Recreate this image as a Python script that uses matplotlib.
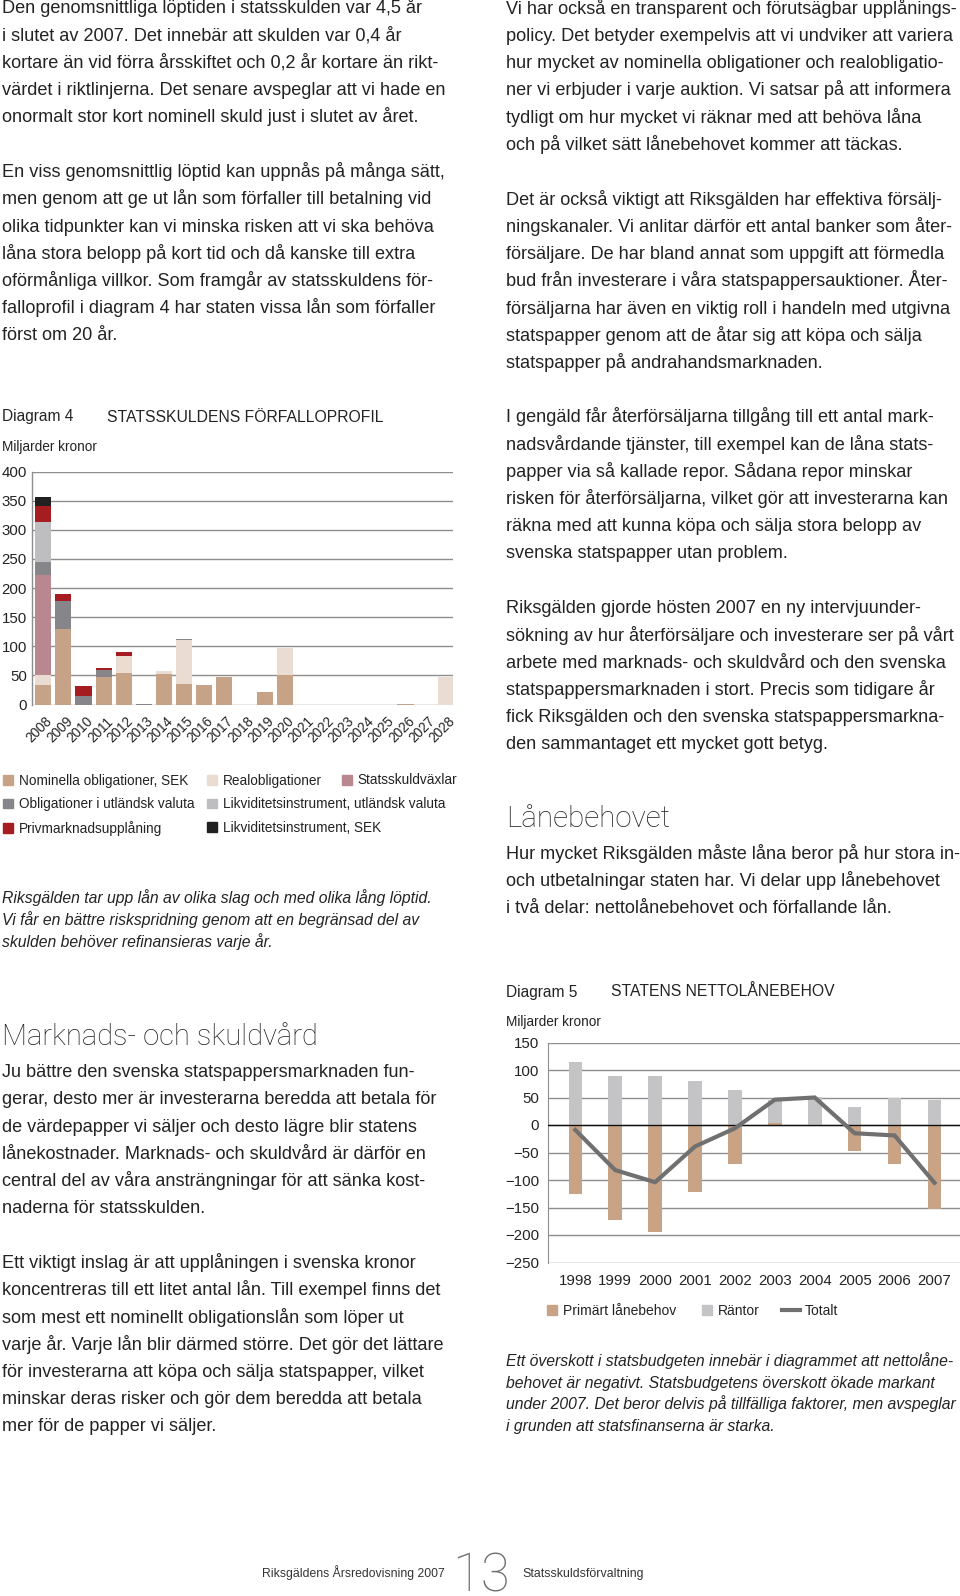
import matplotlib
matplotlib.use("Agg")
import matplotlib.pyplot as plt
from matplotlib.patches import Patch
from matplotlib.lines import Line2D
from matplotlib.transforms import ScaledTranslation

# ---------------- data ----------------
years4 = ["2008", "2009", "2010", "2011", "2012", "2013", "2014", "2015", "2016", "2017", "2018",
          "2019", "2020", "2021", "2022", "2023", "2024", "2025", "2026", "2027", "2028"]
nominella = [34, 130, 0, 47.5, 54.4, 0, 52.6, 35.5, 34.3, 47, 0, 22.3, 51, 0, 0, 0, 0, 0, 0.8, 0, 0]
realobl = [17, 0, 0, 0, 29.7, 0, 4.6, 74.4, 0, 0, 0, 0, 45.7, 0, 0, 0, 0, 0, 0, 0, 48]
statsskuldvaxlar = [171.6, 0, 0, 0, 0, 0, 0, 0, 0, 0, 0, 0, 0, 0, 0, 0, 0, 0, 0, 0, 0]
oblig_utl = [22, 48.5, 14.3, 12, 0, 1, 0, 2, 0, 0, 0, 0, 0, 0, 0, 0, 0, 0, 0, 0, 0]
likvid_utl = [69, 0, 0, 0, 0, 0, 0, 0, 0, 0, 0, 0, 0, 0, 0, 0, 0, 0, 0, 0, 0]
privmarknad = [27.5, 11.5, 18.3, 3.5, 5.8, 0, 0, 0, 0, 0, 0, 0, 0, 0, 0, 0, 0, 0, 0, 0, 0]
likvid_sek = [15, 0, 0, 0, 0, 0, 0, 0, 0, 0, 0, 0, 0, 0, 0, 0, 0, 0, 0, 0, 0]
series4_labels = ["Nominella obligationer, SEK", "Realobligationer", "Statsskuldväxlar",
                  "Obligationer i utländsk valuta", "Likviditetsinstrument, utländsk valuta",
                  "Privmarknadsupplåning", "Likviditetsinstrument, SEK"]
yticks4 = [0, 50, 100, 150, 200, 250, 300, 350, 400]

years5 = ["1998", "1999", "2000", "2001", "2002", "2003", "2004", "2005", "2006", "2007"]
primart = [-125, -173, -194, -121, -70, 3, -2, -48, -70, -152]
rantor = [114, 89, 89.5, 80, 64, 42, 51, 32, 49, 46]
totalt = [-9, -82, -104, -39, -6, 46, 50, -15, -19, -105]
series5_labels = ["Primärt lånebehov", "Räntor", "Totalt"]
yticks5 = [-250, -200, -150, -100, -50, 0, 50, 100, 150]

# ---------------- styles ----------------
W, H = 960, 1596
BODY = "Liberation Sans"
TXT = "#232323"
GRID = "#8e8e8e"
col4 = ["#c6a386", "#eadcd1", "#b8878f", "#86868a", "#bebec0", "#a51d21", "#212121"]
col5 = ["#c8a385", "#c4c4c6", "#707070"]
BS = 13.1   # body text size
HEAD = ["Roboto", "DejaVu Sans"]

plt.rcParams["font.family"] = [BODY, "DejaVu Sans"]
fig = plt.figure(figsize=(W / 100, H / 100), dpi=100)
fig.patch.set_facecolor("white")


def T(x, y, s, size=BS, **kw):
    kw.setdefault("color", TXT)
    kw.setdefault("va", "baseline")
    fig.text(x / W, 1 - y / H, s, fontsize=size, **kw)


def para(x, y0, lines, step=27.2, size=BS, **kw):
    for i, s in enumerate(lines):
        T(x, y0 + i * step, s, size=size, **kw)


# ---------------- body text ----------------
para(2, 13.3, ["Den genomsnittliga löptiden i statsskulden var 4,5 år",
               "i slutet av 2007. Det innebär att skulden var 0,4 år",
               "kortare än vid förra årsskiftet och 0,2 år kortare än rikt-",
               "värdet i riktlinjerna. Det senare avspeglar att vi hade en",
               "onormalt stor kort nominell skuld just i slutet av året."])
para(2, 177.2, ["En viss genomsnittlig löptid kan uppnås på många sätt,",
                "men genom att ge ut lån som förfaller till betalning vid",
                "olika tidpunkter kan vi minska risken att vi ska behöva",
                "låna stora belopp på kort tid och då kanske till extra",
                "oförmånliga villkor. Som framgår av statsskuldens för-",
                "falloprofil i diagram 4 har staten vissa lån som förfaller",
                "först om 20 år."])

RX = 506.5
para(RX, 13.8, ["Vi har också en transparent och förutsägbar upplånings-",
                "policy. Det betyder exempelvis att vi undviker att variera",
                "hur mycket av nominella obligationer och realobligatio-",
                "ner vi erbjuder i varje auktion. Vi satsar på att informera",
                "tydligt om hur mycket vi räknar med att behöva låna",
                "och på vilket sätt lånebehovet kommer att täckas."])
para(RX, 204.8, ["Det är också viktigt att Riksgälden har effektiva försälj-",
                 "ningskanaler. Vi anlitar därför ett antal banker som åter-",
                 "försäljare. De har bland annat som uppgift att förmedla",
                 "bud från investerare i våra statspappersauktioner. Åter-",
                 "försäljarna har även en viktig roll i handeln med utgivna",
                 "statspapper genom att de åtar sig att köpa och sälja",
                 "statspapper på andrahandsmarknaden."])
para(RX, 422.3, ["I gengäld får återförsäljarna tillgång till ett antal mark-",
                 "nadsvårdande tjänster, till exempel kan de låna stats-",
                 "papper via så kallade repor. Sådana repor minskar",
                 "risken för återförsäljarna, vilket gör att investerarna kan",
                 "räkna med att kunna köpa och sälja stora belopp av",
                 "svenska statspapper utan problem."])
para(RX, 613.3, ["Riksgälden gjorde hösten 2007 en ny intervjuunder-",
                 "sökning av hur återförsäljare och investerare ser på vårt",
                 "arbete med marknads- och skuldvård och den svenska",
                 "statspappersmarknaden i stort. Precis som tidigare år",
                 "fick Riksgälden och den svenska statspappersmarkna-",
                 "den sammantaget ett mycket gott betyg."])
T(RX, 826.7, "Lånebehovet", size=21.3, family=HEAD, weight="light")
para(RX, 858.7, ["Hur mycket Riksgälden måste låna beror på hur stora in-",
                 "och utbetalningar staten har. Vi delar upp lånebehovet",
                 "i två delar: nettolånebehovet och förfallande lån."])

T(2, 1045, "Marknads- och skuldvård", size=21.0, family=HEAD, weight="light")
para(2, 1077.2, ["Ju bättre den svenska statspappersmarknaden fun-",
                 "gerar, desto mer är investerarna beredda att betala för",
                 "de värdepapper vi säljer och desto lägre blir statens",
                 "lånekostnader. Marknads- och skuldvård är därför en",
                 "central del av våra ansträngningar för att sänka kost-",
                 "naderna för statsskulden."])
para(2, 1268.2, ["Ett viktigt inslag är att upplåningen i svenska kronor",
                 "koncentreras till ett litet antal lån. Till exempel finns det",
                 "som mest ett nominellt obligationslån som löper ut",
                 "varje år. Varje lån blir därmed större. Det gör det lättare",
                 "för investerarna att köpa och sälja statspapper, vilket",
                 "minskar deras risker och gör dem beredda att betala",
                 "mer för de papper vi säljer."])

# ---------------- Diagram 4 ----------------
T(2, 421.5, "Diagram 4", size=11.2)
T(107, 421.5, "STATSSKULDENS FÖRFALLOPROFIL", size=11.3)
T(2, 450.5, "Miljarder kronor", size=9.8)

ax1 = fig.add_axes([31.7 / W, 1 - 704.5 / H, (453 - 31.7) / W, (704.5 - 471.5) / H])
x4 = list(range(len(years4)))
bottom = [0.0] * len(years4)
for vals, c, lab in zip([nominella, realobl, statsskuldvaxlar, oblig_utl, likvid_utl, privmarknad, likvid_sek],
                        col4, series4_labels):
    ax1.bar(x4, vals, width=0.8, bottom=bottom, color=c, label=lab, zorder=3, linewidth=0)
    bottom = [bo + v for bo, v in zip(bottom, vals)]
ax1.set_xlim(-0.577, 20.363)
ax1.set_ylim(0, 400)
ax1.set_yticks(yticks4)
ax1.set_yticklabels([str(v) for v in yticks4])
ax1.yaxis.grid(True, color=GRID, linewidth=1.0, zorder=0)
ax1.set_axisbelow(True)
for s in ["top", "right", "bottom"]:
    ax1.spines[s].set_visible(False)
ax1.spines["left"].set_color(GRID)
ax1.spines["left"].set_linewidth(1.0)
ax1.tick_params(axis="y", length=0, pad=3.5, labelsize=10.8, labelcolor=TXT)
ax1.set_xticks(x4)
ax1.set_xticklabels(years4, rotation=45, ha="right", va="top", rotation_mode="anchor")
ax1.tick_params(axis="x", length=0, pad=7, labelsize=9.8, labelcolor=TXT)
for lab in ax1.get_xticklabels():
    lab.set_transform(lab.get_transform() + ScaledTranslation(2 / 100, 0, fig.dpi_scale_trans))
ax1.set_facecolor("none")

leg_cols = [([0, 3, 5], 2.7), ([1, 4, 6], 206.5), ([2], 341.5)]
for idx, xl in leg_cols:
    fig.legend([Patch(color=col4[i]) for i in idx], [series4_labels[i] for i in idx],
               loc="upper left", bbox_to_anchor=(xl / W, 1 - 773.5 / H), frameon=False,
               fontsize=9.8, handlelength=0.74, handleheight=0.74, handletextpad=0.45,
               labelspacing=0.72, borderpad=0, borderaxespad=0, labelcolor=TXT)

para(2, 903.5, ["Riksgälden tar upp lån av olika slag och med olika lång löptid.",
                "Vi får en bättre riskspridning genom att en begränsad del av",
                "skulden behöver refinansieras varje år."], step=22.0, size=11.3, style="italic")

# ---------------- Diagram 5 ----------------
T(506, 996.5, "Diagram 5", size=11.2)
T(611, 996.5, "STATENS NETTOLÅNEBEHOV", size=11.3)
T(506, 1026, "Miljarder kronor", size=9.8)

ax2 = fig.add_axes([547.7 / W, 1 - 1262.5 / H, (960 - 547.7) / W, (1262.5 - 1042.5) / H])
x5 = list(range(len(years5)))
ax2.bar(x5, primart, width=0.34, color=col5[0], zorder=3, linewidth=0)
ax2.bar(x5, rantor, width=0.34, bottom=[max(p, 0) for p in primart], color=col5[1], zorder=3, linewidth=0)
ax2.plot(x5, totalt, color=col5[2], linewidth=3.0, zorder=5, solid_joinstyle="miter")
ax2.axhline(0, color="#111111", linewidth=1.0, zorder=4)
ax2.set_xlim(-0.692, 9.64)
ax2.set_ylim(-250, 150)
ax2.set_yticks(yticks5)
ax2.set_yticklabels([str(v).replace("-", "\u2212") for v in yticks5])
ax2.yaxis.grid(True, color=GRID, linewidth=1.0, zorder=0)
ax2.set_axisbelow(True)
for s in ["top", "right", "bottom"]:
    ax2.spines[s].set_visible(False)
ax2.spines["left"].set_color(GRID)
ax2.tick_params(axis="y", length=0, pad=6, labelsize=10.8, labelcolor=TXT)
ax2.set_xticks(x5)
ax2.set_xticklabels(years5)
ax2.tick_params(axis="x", length=0, pad=8, labelsize=10.8, labelcolor=TXT)
ax2.set_facecolor("none")

leg5 = [(Patch(color=col5[0]), series5_labels[0], 547, 0.72),
        (Patch(color=col5[1]), series5_labels[1], 702, 0.72),
        (Line2D([], [], color=col5[2], linewidth=3.0), series5_labels[2], 781.5, 1.3)]
for h, lab, xl, hl in leg5:
    fig.legend([h], [lab], loc="center left", bbox_to_anchor=(xl / W, 1 - 1311 / H), frameon=False,
               fontsize=10, handlelength=hl, handleheight=0.72, handletextpad=0.4,
               borderpad=0, borderaxespad=0, labelcolor=TXT)

para(506.5, 1366, ["Ett överskott i statsbudgeten innebär i diagrammet att nettolåne-",
                   "behovet är negativt. Statsbudgetens överskott ökade markant",
                   "under 2007. Det beror delvis på tillfälliga faktorer, men avspeglar",
                   "i grunden att statsfinanserna är starka."], step=21.6, size=11.3, style="italic")

# ---------------- footer ----------------
T(261.5, 1577, "Riksgäldens Årsredovisning 2007", size=8.8, color="#333333")
T(452, 1592, "13", size=38, color="#6e6e6e", family=HEAD, weight="light")
T(522.5, 1577, "Statsskuldsförvaltning", size=8.9, color="#333333")

fig.savefig("out.png", dpi=100, facecolor="white")
